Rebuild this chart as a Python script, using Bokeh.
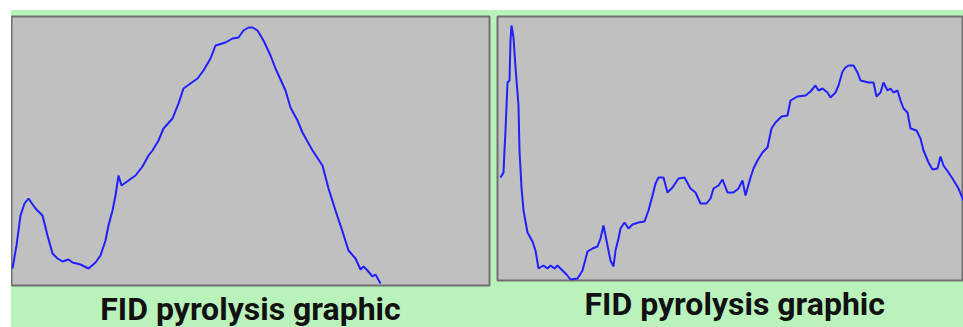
from bokeh.plotting import figure
from bokeh.models import Range1d, Title
from bokeh.layouts import row
from bokeh.embed import file_html
from bokeh.resources import INLINE

# Panel 1: FID signal (time index, detector response)
t1 = [1, 5, 9, 13, 17, 24, 31, 36, 41, 46, 51, 57, 61, 69, 77, 84, 89, 94, 97, 101,
      104, 107, 110, 117, 124, 131, 137, 141, 147, 152, 161, 167, 172, 179, 186, 192,
      199, 204, 214, 221, 227, 232, 237, 241, 246, 252, 259, 264, 269, 274, 279, 286,
      291, 301, 311, 317, 324, 331, 337, 344, 349, 352, 356, 361, 364, 369]
s1 = [17, 40, 70, 82, 87, 77, 70, 50, 32, 27, 24, 26, 23, 21, 17, 23, 30, 45, 60, 75,
      90, 110, 100, 105, 110, 119, 130, 135, 145, 157, 167, 182, 197, 202, 207, 215,
      227, 240, 243, 247, 248, 255, 258, 258, 255, 245, 230, 217, 206, 195, 178, 165,
      153, 135, 120, 97, 75, 54, 35, 27, 16, 19, 15, 9, 11, 2]

# Panel 2: FID signal
t2 = [3, 6, 7, 8, 10, 12, 13, 14, 16, 18, 21, 22, 24, 26, 30, 35, 38, 41, 46, 50,
      53, 57, 60, 65, 69, 73, 80, 85, 90, 95, 100, 103, 106, 109, 113, 116, 118, 121,
      123, 127, 131, 135, 141, 147, 151, 155, 158, 161, 166, 170, 175, 181, 187, 193,
      198, 203, 209, 213, 216, 221, 225, 230, 236, 241, 245, 248, 253, 256, 260, 265,
      270, 274, 278, 284, 290, 293, 300, 308, 313, 318, 321, 325, 330, 333, 338, 341,
      345, 348, 351, 356, 360, 363, 371, 376, 379, 383, 386, 390, 393, 396, 400, 403,
      406, 410, 413, 419, 423, 426, 431, 435, 440, 443, 446, 451, 455, 458, 461, 466]
s2 = [103, 108, 130, 150, 198, 200, 240, 255, 243, 213, 175, 130, 93, 70, 48, 39, 30,
      12, 15, 12, 15, 12, 15, 10, 6, 1, 2, 10, 29, 32, 34, 42, 55, 40, 20, 14, 30, 42,
      52, 58, 52, 56, 58, 59, 70, 85, 97, 103, 103, 88, 93, 102, 103, 92, 88, 77, 77,
      82, 92, 95, 101, 88, 88, 92, 100, 85, 103, 112, 120, 128, 133, 152, 158, 164,
      165, 180, 184, 185, 189, 195, 190, 192, 188, 183, 188, 195, 209, 213, 215, 215,
      208, 200, 198, 198, 184, 188, 198, 190, 192, 188, 190, 180, 172, 168, 152, 150,
      142, 130, 118, 111, 112, 124, 115, 108, 102, 97, 92, 80]

title_text = "FID pyrolysis graphic"

GREEN = "#b9f3bb"
PANEL = "#c0c0c0"
BLUE = "#1f1fff"
BORDER = "#707070"


def make_panel(t, s, xmax, ymax, frame_w, frame_h, left, right, bottom, align, offset):
    p = figure(frame_width=frame_w, frame_height=frame_h,
               x_range=Range1d(0, xmax), y_range=Range1d(0, ymax),
               x_axis_location=None, y_axis_location=None,
               toolbar_location=None, output_backend="svg",
               min_border_left=left, min_border_right=right,
               min_border_top=6, min_border_bottom=bottom)
    p.xgrid.visible = False
    p.ygrid.visible = False
    p.background_fill_color = PANEL
    p.border_fill_color = GREEN
    p.outline_line_color = BORDER
    p.outline_line_width = 2
    p.line(t, s, line_color=BLUE, line_width=2)
    p.add_layout(Title(text=title_text, align=align, offset=offset,
                       text_font="Roboto", text_font_style="bold",
                       text_font_size="32px", text_color="#111111",
                       standoff=5), "below")
    return p


p1 = make_panel(t1, s1, 478, 269, 478, 269, 0, 4, 42, "center", 0)
p2 = make_panel(t2, s2, 466, 264, 466, 264, 4, 0, 47, "left", 87)

layout = row(p1, p2, margin=(10, 0, 0, 11), spacing=0)
layout.styles = {"background-color": GREEN}

open("out.html", "w").write(file_html(layout, INLINE))
